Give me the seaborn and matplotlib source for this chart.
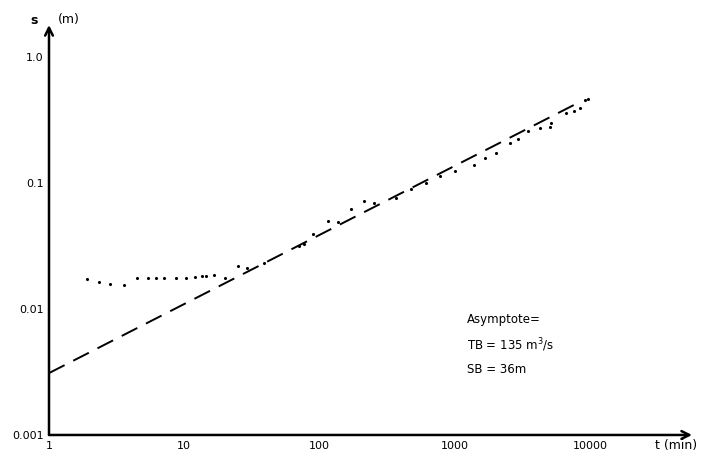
"""
Log-log drawdown plot: measured drawdown s against time t
with the straight-line asymptote.
"""

import matplotlib
matplotlib.use("Agg")
import pandas as pd
import seaborn as sns
import matplotlib.pyplot as plt

t_points = [1.9, 2.35, 2.85, 3.6, 4.5, 5.4, 6.2, 7.1, 8.7, 10.3, 12, 13.5,
            14.5, 16.7, 20, 25, 29, 39, 71, 77, 89, 115, 137, 172, 215, 255,
            370, 478, 617, 774, 1000, 1400, 1670, 2040, 2550, 2940, 3500,
            4270, 5060, 5200, 6700, 7700, 8400, 9200, 9700]
s_points = [0.0172, 0.0165, 0.0159, 0.0155, 0.0177, 0.0176, 0.0177, 0.0177,
            0.0177, 0.0177, 0.0179, 0.0183, 0.0183, 0.0186, 0.0177, 0.0219,
            0.0213, 0.0233, 0.0316, 0.0328, 0.0392, 0.0499, 0.0493, 0.0618,
            0.072, 0.069, 0.0764, 0.089, 0.1005, 0.1136, 0.1245, 0.139,
            0.159, 0.174, 0.209, 0.226, 0.259, 0.275, 0.278, 0.301, 0.361,
            0.373, 0.396, 0.453, 0.462]

# asymptote end points
t_line = [1, 8750]
s_line = [0.0031, 0.45]

x_ticks = [1, 10, 100, 1000, 10000]
x_labels = ["1", "10", "100", "1000", "10000"]
y_ticks = [0.001, 0.01, 0.1, 1.0]
y_labels = ["0.001", "0.01", "0.1", "1.0"]

notes = ["Asymptote=", "TB = 135 m$^3$/s", "SB = 36m"]


def main():
    sns.set_style("white")
    plt.rcParams["font.family"] = ["DejaVu Sans"]
    plt.rcParams["text.color"] = "black"

    fig = plt.figure(figsize=(7.02, 4.55), dpi=100)
    ax = fig.add_axes([0.0698, 0.044, 0.916, 0.901])

    points = pd.DataFrame({"t": t_points, "s": s_points})
    line = pd.DataFrame({"t": t_line, "s": s_line})

    sns.lineplot(data=line, x="t", y="s", ax=ax, color="black",
                 linewidth=1.4, dashes=False, linestyle=(0, (9, 5)))
    sns.scatterplot(data=points, x="t", y="s", ax=ax, color="black",
                    s=5, edgecolor=None, linewidth=0)

    ax.set_xscale("log")
    ax.set_yscale("log")
    ax.set_xlim(1, 57000)
    ax.set_ylim(0.001, 1.8)
    ax.set_xticks(x_ticks)
    ax.set_xticklabels(x_labels)
    ax.set_yticks(y_ticks)
    ax.set_yticklabels(y_labels)
    ax.minorticks_off()
    ax.tick_params(length=2, width=1, direction="in", labelsize=8,
                   pad=4, colors="black")
    ax.set_xlabel("")
    ax.set_ylabel("")
    for side in ["top", "right", "left", "bottom"]:
        ax.spines[side].set_visible(False)

    # axes drawn as arrows
    arrow = dict(arrowstyle="->", color="black", lw=1.8,
                 mutation_scale=14, shrinkA=0, shrinkB=0)
    ax.annotate("", xy=(1.0, 0), xytext=(0, 0), xycoords="axes fraction",
                arrowprops=arrow, annotation_clip=False)
    ax.annotate("", xy=(0, 1.0), xytext=(0, 0), xycoords="axes fraction",
                arrowprops=arrow, annotation_clip=False)

    fig.text(30 / 702, 1 - 20 / 455, "s", fontsize=9, fontweight="bold",
             va="center", color="black")
    fig.text(58 / 702, 1 - 19 / 455, "(m)", fontsize=9, va="center",
             color="black")
    fig.text(655 / 702, 1 - 446 / 455, "t (min)", fontsize=9,
             va="center", color="black")

    for text, y in zip(notes, [0.0083, 0.0052, 0.0033]):
        ax.text(1230, y, text, fontsize=8.5, va="center", color="black")

    fig.savefig("out.png", dpi=100)


if __name__ == "__main__":
    main()
